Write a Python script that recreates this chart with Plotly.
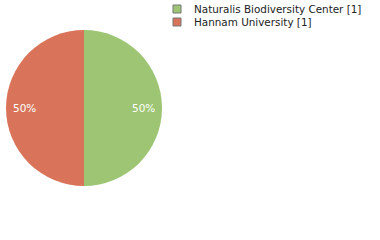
import math
import plotly.graph_objects as go

labels = ["Naturalis Biodiversity Center [1]", "Hannam University [1]"]
values = [1, 1]
colors = ["#9DC574", "#D9745A"]

W, H = 380, 240
cx, cy, r = 84, 108, 78
fig = go.Figure(go.Pie(
    labels=labels, values=values, sort=False, direction="clockwise", rotation=0,
    marker=dict(colors=colors, line=dict(width=0)),
    textinfo="none",
    domain=dict(x=[(cx - r)/W, (cx + r)/W], y=[1-(cy + r)/H, 1-(cy - r)/H]),
    hoverinfo="skip", showlegend=False,
))

total = sum(values)
start = 0.0
shapes, annots = [], []
for i, (lab, v, c) in enumerate(zip(labels, values, colors)):
    mid = start + v / total / 2
    ang = 2 * math.pi * mid  # clockwise from 12 o'clock
    tx = cx + 0.76 * r * math.sin(ang)
    ty = cy - 0.76 * r * math.cos(ang)
    annots.append(dict(x=tx/W, y=1-ty/H, xref="paper", yref="paper", showarrow=False,
                       xanchor="center", yanchor="middle",
                       text=f"{round(100*v/total)}%",
                       font=dict(color="white", family="DejaVu Sans", size=10.5)))
    start += v / total
    y0 = 5 + 13 * i
    shapes.append(dict(type="rect", xref="paper", yref="paper",
                       x0=173/W, x1=181/W, y0=1-(y0+8)/H, y1=1-y0/H,
                       fillcolor=c, line=dict(color="#777", width=1)))
    annots.append(dict(x=192/W, y=1-(y0+4)/H, xref="paper", yref="paper", showarrow=False,
                       xanchor="left", yanchor="middle", text=lab,
                       font=dict(color="#222", family="DejaVu Sans", size=10.4)))

fig.update_layout(
    width=W, height=H, margin=dict(l=0, r=0, t=0, b=0),
    paper_bgcolor="white", plot_bgcolor="white",
    shapes=shapes, annotations=annots,
)
fig.write_html("out.html")
